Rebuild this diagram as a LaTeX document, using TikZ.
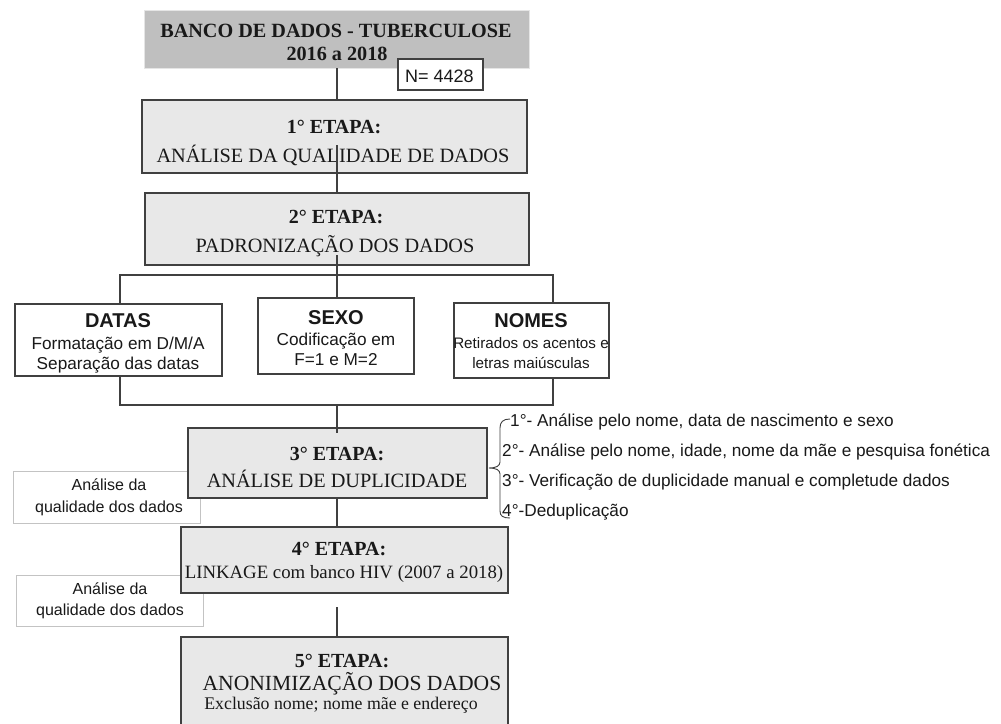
\documentclass[tikz,border=0pt]{standalone}
\usepackage{fontspec}
\setmainfont{Liberation Serif}
\newfontfamily\arial{Liberation Sans}
\definecolor{topfill}{RGB}{191,191,191}
\definecolor{stepfill}{RGB}{232,232,232}
\definecolor{edge}{RGB}{64,64,64}
\definecolor{softedge}{RGB}{195,195,195}
\definecolor{ink}{RGB}{25,25,25}
\newcommand\fsz[1]{\fontsize{#1}{#1}\selectfont}
\begin{document}
\begin{tikzpicture}[x=1pt,y=-1pt,
  box/.style={rectangle, anchor=north west, inner sep=0pt, outer sep=0pt},
  stepbox/.style={box, fill=stepfill, draw=edge, line width=1.1pt},
  topbox/.style={box, fill=topfill, draw=gray!20, line width=0.8pt},
  plainbox/.style={box, fill=white, draw=edge, line width=1.1pt},
  sidebox/.style={box, fill=white, draw=softedge, line width=1pt},
  lbl/.style={anchor=base, inner sep=0pt, text=ink},
  lleft/.style={anchor=base west, inner sep=0pt, text=ink},
  serb/.style={font=\fsz{20}\bfseries},
  serr/.style={font=\fsz{20.3}},
  sanb/.style={font=\arial\fsz{20}\bfseries},
  sanr/.style={font=\arial\fsz{17.2}},
  sans/.style={font=\arial\fsz{15.2}},
  sidet/.style={font=\arial\fsz{16}},
  conn/.style={draw=edge, line width=1.1pt}]
\clip (0,0) rectangle (1001,723);
\fill[white] (0,0) rectangle (1001,723);

% top box
\node[topbox, minimum width=385pt, minimum height=58pt] (top) at (144,10) {};
\node[lbl, font=\fsz{20.2}\bfseries] (topt1) at (336,37) {BANCO DE DADOS - TUBERCULOSE};
\node[lbl, font=\fsz{20.2}\bfseries] (topt2) at (337,60) {2016 a 2018};
\node[plainbox, minimum width=85pt, minimum height=31pt] (nbox) at (398,59) {};
\node[lleft, font=\arial\fsz{18}] (nt) at (405,82) {N= 4428};

% step 1
\node[stepbox, minimum width=385pt, minimum height=73pt] (s1) at (142,100) {};
\node[lbl, serb] (s1a) at (334,133) {1° ETAPA:};
\node[lbl, serr] (s1b) at (333,162) {ANÁLISE DA QUALIDADE DE DADOS};

% step 2
\node[stepbox, minimum width=384pt, minimum height=72pt] (s2) at (145,193) {};
\node[lbl, serb] (s2a) at (336,223) {2° ETAPA:};
\node[lbl, serr] (s2b) at (335,252) {PADRONIZAÇÃO DOS DADOS};

% three boxes
\node[plainbox, minimum width=207pt, minimum height=72pt] (datas) at (15,304) {};
\node[lbl, sanb] (datasa) at (118,327) {DATAS};
\node[lbl, sanr] (datasb) at (118,349) {Formatação em D/M/A};
\node[lbl, sanr] (datasc) at (118,369) {Separação das datas};

\node[plainbox, minimum width=156pt, minimum height=76pt] (sexo) at (258,298) {};
\node[lbl, sanb] (sexoa) at (336,324) {SEXO};
\node[lbl, sanr] (sexob) at (336,345) {Codificação em};
\node[lbl, sanr] (sexoc) at (336,365) {F=1 e M=2};

\node[plainbox, minimum width=155pt, minimum height=75pt] (nomes) at (454,303) {};
\node[lbl, sanb] (nomesa) at (531,327) {NOMES};
\node[lbl, sans] (nomesb) at (531,348) {Retirados os acentos e};
\node[lbl, sans] (nomesc) at (531,368) {letras maiúsculas};

% side box 1 and step 3
\node[sidebox, minimum width=187pt, minimum height=52pt] (side1) at (13,471) {};
\node[lbl, sidet] (side1a) at (109,490) {Análise da};
\node[lbl, sidet] (side1b) at (109,512) {qualidade dos dados};
\node[stepbox, minimum width=299pt, minimum height=70pt] (s3) at (188,428) {};
\node[lbl, serb] (s3a) at (337,460) {3° ETAPA:};
\node[lbl, serr] (s3b) at (337,487) {ANÁLISE DE DUPLICIDADE};

% side box 2 and step 4
\node[sidebox, minimum width=187pt, minimum height=51pt] (side2) at (16,575) {};
\node[lbl, sidet] (side2a) at (110,594) {Análise da};
\node[lbl, sidet] (side2b) at (110,615) {qualidade dos dados};
\node[stepbox, minimum width=327pt, minimum height=66pt] (s4) at (181,527) {};
\node[lbl, serb] (s4a) at (339,555) {4° ETAPA:};
\node[lbl, font=\fsz{18.8}] (s4b) at (344,578) {LINKAGE com banco HIV (2007 a 2018)};

% step 5
\node[stepbox, minimum width=327pt, minimum height=110pt] (s5) at (181,637) {};
\node[lbl, serb] (s5a) at (342,667) {5° ETAPA:};
\node[lbl, font=\fsz{21.6}] (s5b) at (352,690) {ANONIMIZAÇÃO DOS DADOS};
\node[lbl, font=\fsz{17.8}] (s5c) at (341,709) {Exclusão nome; nome mãe e endereço};

% list
\node[lleft, sanr] (l1) at (510,426) {1°- Análise pelo nome, data de nascimento e sexo};
\node[lleft, sanr] (l2) at (502,456) {2°- Análise pelo nome, idade, nome da mãe e pesquisa fonética};
\node[lleft, sanr] (l3) at (502,486) {3°- Verificação de duplicidade manual e completude dados};
\node[lleft, sanr] (l4) at (502,516) {4°-Deduplicação};

% connectors
\coordinate (cx) at (337,0);
\coordinate (s1in) at (337,145);
\coordinate (s2in) at (337,255);
\coordinate (bl) at (120,275);
\coordinate (br) at (553,275);
\coordinate (bl2) at (120,405);
\coordinate (br2) at (553,405);
\coordinate (mid2) at (337,405);
\coordinate (s3in) at (337,433);
\coordinate (gap) at (337,607);

\draw[conn] (cx |- top.south) -- (cx |- s1.north);
\draw[conn] (s1in) -- (s1in |- s2.north);
\draw[conn] (s2in) -- (s2in |- sexo.north);
\draw[conn] (bl |- datas.north) -- (bl) -- (br) -- (br |- nomes.north);
\draw[conn] (bl2 |- datas.south) -- (bl2) -- (br2) -- (br2 |- nomes.south);
\draw[conn] (mid2) -- (s3in);
\draw[conn] (cx |- s3.south) -- (cx |- s4.north);
\draw[conn] (gap) -- (gap |- s5.north);

% brace
\draw[edge, line width=0.9pt]
  (510,419) .. controls (503,419) and (500,422) .. (500,428)
  -- (500,462) .. controls (500,466) and (496,468) .. (489,468)
  .. controls (496,468) and (500,470) .. (500,474)
  -- (500,511) .. controls (500,516) and (503,518) .. (510,518);
\end{tikzpicture}
\end{document}
